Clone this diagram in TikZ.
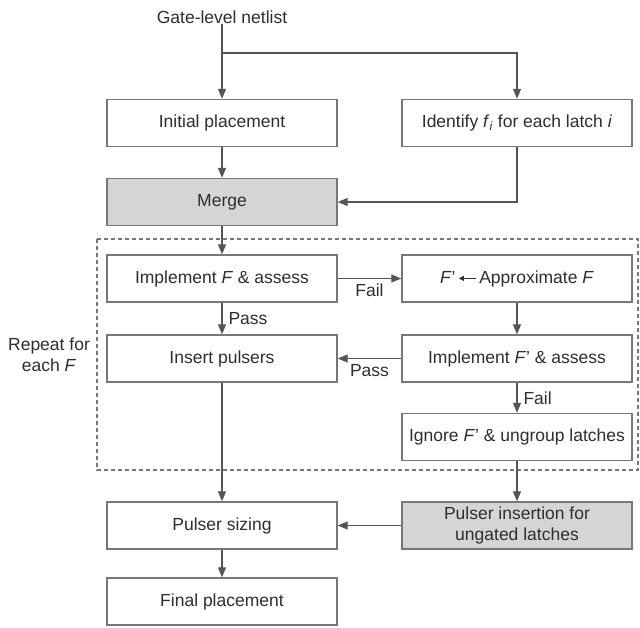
\documentclass[tikz,border=0pt]{standalone}
\usepackage{fontspec}
\setmainfont{Liberation Sans}
\usetikzlibrary{arrows.meta}
\definecolor{ln}{HTML}{555555}
\definecolor{bx}{HTML}{777777}
\definecolor{tx}{HTML}{2E2E2E}
\definecolor{gf}{HTML}{D5D5D5}
\newcommand{\leftarr}{\tikz[baseline=-0.5ex]{\draw[draw=tx, line width=1pt, -{Triangle[length=5pt,width=5pt]}] (17pt,0pt) -- (0pt,0pt);}}
\begin{document}
\begin{tikzpicture}[x=1pt,y=-1pt,
  box/.style={draw=bx, line width=1.4pt, minimum width=230pt, minimum height=47pt,
    inner sep=0pt, text=tx, font=\fontsize{17.5}{21}\selectfont, align=center},
  greybox/.style={box, fill=gf},
  conn/.style={draw=ln, line width=1.1pt, -{Triangle[length=10pt,width=8pt]}},
  plain/.style={draw=ln, line width=1.1pt},
  lbl/.style={text=tx, font=\fontsize{17.5}{21}\selectfont, inner sep=0pt, align=center}]
\useasboundingbox (0,0) rectangle (640,627);
\fill[white] (0,0) rectangle (640,627);
% dashed loop region
\draw[bx, line width=1.2pt, dash pattern=on 4pt off 3pt] (97,239) rectangle (638,470);
% nodes
\node[lbl] (src) at (222,17) {Gate-level netlist};
\node[box] (init) at (222,123) {Initial placement};
\node[box] (ident) at (517,123) {Identify \textit{f}\textsubscript{\textit{i}} for each latch \textit{i}};
\node[greybox] (merge) at (222,202) {Merge};
\node[box] (impl) at (222,278.5) {Implement \textit{F} \& assess};
\node[box] (approx) at (517,278.5) {\textit{F}'\,\leftarr\,Approximate \textit{F}};
\node[box] (ins) at (222,358.5) {Insert pulsers};
\node[box] (implp) at (517,358.5) {Implement \textit{F}' \& assess};
\node[box] (ign) at (517,437) {Ignore \textit{F}' \& ungroup latches};
\node[box] (size) at (222,525.5) {Pulser sizing};
\node[greybox] (pins) at (517,525.5) {Pulser insertion for\\ungated latches};
\node[box] (final) at (222,601.5) {Final placement};
\node[lbl] (rep) at (49,355) {Repeat for\\each \textit{F}};
\coordinate (br) at (222,53);
\coordinate (brr) at (517,53);
\coordinate (mg) at (517,202);
% connectors
\draw[plain] (src.south) -- (br);
\draw[conn] (br) -- (init.north);
\draw[conn] (br) -- (brr) -- (ident.north);
\draw[conn] (init) -- (merge);
\draw[conn] (ident.south) -- (mg) -- (merge.east);
\draw[conn] (merge) -- (impl);
\draw[conn] (impl) -- node[lbl, below, yshift=-5pt] {Fail} (approx);
\draw[conn] (impl) -- node[lbl, right, xshift=6pt] {Pass} (ins);
\draw[conn] (approx) -- (implp);
\draw[conn] (implp) -- node[lbl, below, yshift=-5pt] {Pass} (ins);
\draw[conn] (implp) -- node[lbl, right, xshift=6pt] {Fail} (ign);
\draw[conn] (ins) -- (size);
\draw[conn] (ign) -- (pins);
\draw[conn] (pins) -- (size);
\draw[conn] (size) -- (final);
\end{tikzpicture}
\end{document}
